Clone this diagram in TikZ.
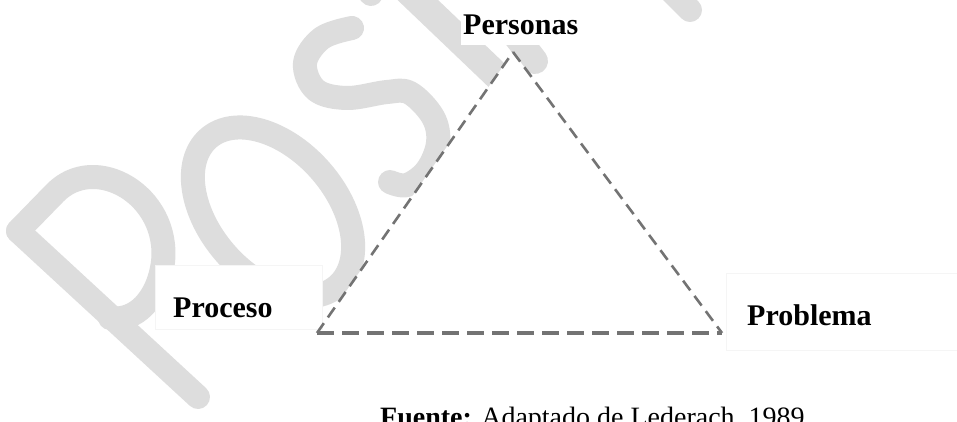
\documentclass[tikz,border=0pt]{standalone}
\usepackage{fontspec}
\setmainfont{Liberation Serif}
\definecolor{wm}{RGB}{221,221,221}
\definecolor{dashc}{RGB}{115,115,115}
\begin{document}
\begin{tikzpicture}[x=1pt,y=1pt,
  wmstroke/.style={draw=wm, line width=24pt, line cap=round, line join=round},
  sideline/.style={draw=dashc, dash pattern=on 12pt off 7pt, line width=2.6pt},
  baseline/.style={draw=dashc, dash pattern=on 17pt off 8pt, line width=3.6pt},
  lbl/.style={font=\bfseries\fontsize{30}{36}\selectfont, inner sep=0pt, text=black},
  wbox/.style={fill=white, draw=black!4, line width=0.6pt}]
\useasboundingbox (0,0) rectangle (957,421);
\clip (0,0) rectangle (957,421);
\fill[white] (0,0) rectangle (957,421);
% watermark letters
\draw[wmstroke] (18,190) -- (198,24);
\draw[wmstroke] (18,190) -- (55,228) .. controls (95,269) and (170,226) .. (163,159)
   .. controls (158,121) and (135,99) .. (110,103);
\draw[draw=wm, line width=24pt, rotate around={-48.7:(273,209)}] (273,209) ellipse [x radius=98, y radius=63];
\draw[wmstroke] plot[smooth, tension=0.6] coordinates {(352,393) (322,383) (305,358) (316,331) (347,323) (387,329) (410,328) (433,304) (438,278) (427,251) (407,236) (390,239)};
\draw[wmstroke, line width=28pt] (400,438) -- (512,331);
\draw[wmstroke, line width=26pt] (515,386) -- (535,360);
\draw[wmstroke] (650,451) -- (690,411);
\draw[wmstroke] (350,451) -- (371,427);
% triangle
\coordinate (L) at (317,88);
\coordinate (T) at (513,369);
\coordinate (R) at (722,88);
\fill[white] (L) -- (T) -- (R) -- cycle;
% label boxes
\fill[white] (461,376) rectangle (590,418);
\draw[wbox] (155,92) rectangle (322,156);
\draw[wbox] (726,71) rectangle (960,148);
% sides
\draw[sideline] (L) -- (T);
\draw[sideline] (T) -- (R);
\draw[baseline] (L) -- (R);
% labels
\node[lbl, anchor=base west] (personas) at (463,386) {Personas};
\node[lbl, anchor=base west] (proceso) at (173,104) {Proceso};
\node[lbl, anchor=base west] (problema) at (747,96) {Problema};
\node[font=\fontsize{28}{34}\selectfont, anchor=base west, inner sep=0pt] (fuente) at (380,-5.5) {\textbf{Fuente:} Adaptado de Lederach, 1989};
\end{tikzpicture}
\end{document}
